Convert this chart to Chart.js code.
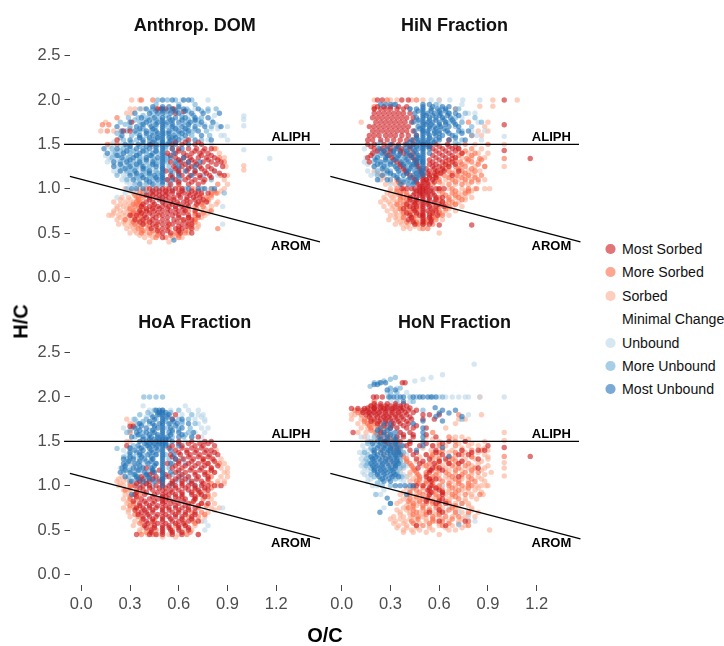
<!DOCTYPE html>
<html>
<head>
<meta charset="utf-8">
<title>Van Krevelen panels</title>
<script src="https://cdn.jsdelivr.net/npm/chart.js@4"></script>
<style>
body { margin: 0; background: #fff; width: 724px; height: 646px; position: relative; overflow: hidden; font-family: "Liberation Sans", sans-serif; }
canvas { position: absolute; }
.axis-title { position: absolute; font-weight: bold; font-size: 20px; color: #000; }
#legend div { position: absolute; left: 622px; font-size: 15.4px; color: #111; line-height: 18px; white-space: nowrap; transform: scaleX(.92); transform-origin: left center; }
#legend i { position: absolute; left: -18px; top: 4px; width: 10.5px; height: 10px; border-radius: 50%; }
</style>
</head>
<body>
<canvas id="dom" width="325" height="297" style="left:0;top:0"></canvas>
<canvas id="hin" width="265" height="297" style="left:325px;top:0"></canvas>
<canvas id="hoa" width="325" height="349" style="left:0;top:297px"></canvas>
<canvas id="hon" width="265" height="349" style="left:325px;top:297px"></canvas>
<div class="axis-title" style="left:0;top:310px;width:42px;text-align:center;transform:rotate(-90deg)">H/C</div>
<div class="axis-title" style="left:300px;top:624px;width:50px;text-align:center">O/C</div>
<div id="legend"></div>
<script>
// axis and legend values
const xTicks = [0, 0.3, 0.6, 0.9, 1.2];
const yTicks = [0, 0.5, 1, 1.5, 2, 2.5];
const classNames = ['Most Sorbed', 'More Sorbed', 'Sorbed', 'Minimal Change', 'Unbound', 'More Unbound', 'Most Unbound'];
const classColors = ['rgba(203,24,29,.6)', 'rgba(251,106,74,.6)', 'rgba(252,174,145,.6)', 'rgba(255,255,255,0)', 'rgba(189,215,231,.6)', 'rgba(107,174,214,.6)', 'rgba(33,113,181,.6)'];
const panelTitles = ['Anthrop. DOM', 'HiN Fraction', 'HoA Fraction', 'HoN Fraction'];

// reference lines, as [O/C, H/C]
const aliphLeft = [[-0.106, 1.5], [1.469, 1.5]];
const aliphRight = [[-0.072, 1.5], [1.46, 1.5]];
const aromLine = [[-0.07, 1.138], [1.469, 0.4]];

// every series below is a list of rows: [H/C, [O/C values read along that row]]
const domSorbed = [
  [2, [.31, .36]], [1.9, [.3, .33, .37]], [1.85, [.28, .31]], [1.75, [.15]], [1.65, [.12, .2, .24]], [1.5, [.18]],
  [1.45, [.83]], [1.4, [.85]], [1.26, [1]], [1.21, [1]], [1.25, [.89]], [1.15, [.9]], [1.05, [.9]],
  [1, [.27, .36, .62, .7, .75, .88]], [.95, [.32, .84]], [.9, [.25, .29, .34, .8]], [.85, [.2, .27, .32, .37, .78, .84]],
  [.8, [.22, .26, .3, .35, .8]], [.75, [.2, .24, .29, .33, .74, .79]], [.7, [.17, .19, .23, .27, .76]],
  [.65, [.22, .27, .31, .7]], [.6, [.23, .27, .31, .35, .72]], [.55, [.28, .32, .37, .66, .71]],
  [.5, [.3, .34, .39, .45, .6, .66]], [.45, [.39, .44, .56, .62]], [.4, [.42, .54]],
  [.975, [.3, .34, .86]], [.875, [.24, .3]], [.825, [.24, .29, .83]], [.775, [.22, .28, .76]], [.725, [.2, .26, .3, .78]], [.675, [.24, .29, .74]],
  [.625, [.26, .3, .68]], [.575, [.3, .34, .72]], [.525, [.33, .37, .66]], [.475, [.36, .42, .58]], [1.1, [.88]], [1.35, [.88]]
];
const domMoreSorbed = [
  [2, [.44, .37]], [1.9, [.46, .5, .56]], [1.8, [.22]], [1.72, [.13, .17]], [1.65, [.16]], [1.5, [.16, .22]],
  [1.45, [.82]], [1.35, [.85]], [1.3, [.88]], [1.15, [.86]], [1.05, [.84]], [1, [.4, .52, .6, .68, .8]],
  [.95, [.36, .4, .8, .83]], [.9, [.35, .38, .77]], [.85, [.34, .36, .74]], [.8, [.33, .38, .44, .7, .75]],
  [.75, [.32, .38, .42, .66, .8]], [.7, [.31, .36, .48, .7]], [.65, [.27, .35, .42, .62, .7]], [.6, [.33, .4, .47, .54, .66]],
  [.55, [.35, .41, .47, .54, .6, .84]], [.5, [.37, .42, .48, .58, .64]], [.45, [.46, .52, .6]],
  [.975, [.38, .82]], [.925, [.33, .37, .74, .8]], [.875, [.35, .78]], [.825, [.32, .35, .74]], [.775, [.3, .36, .71]], [.725, [.32, .35, .7, .75]],
  [.675, [.33, .37, .66, .72]], [.625, [.32, .39, .7]], [.575, [.37, .42, .68]], [.525, [.38, .44, .64]], [.475, [.47, .55, .6]]
];
const domMostSorbed = [
  [1.9, [.47, .49, .52, .57]], [1.85, [.58]], [1.87, [.63]], [1.75, [.31]], [1.65, [.26, .3]], [1.55, [.66, .22]],
  [1.5, [.43, .56, .62, .7, .74]], [1.45, [.56, .6, .66, .71, .76, .8]], [1.4, [.53, .58, .63, .68, .73, .78]],
  [1.35, [.58, .63, .67, .72, .77, .82]], [1.3, [.55, .61, .66, .7, .75, .8, .86]], [1.25, [.57, .62, .68, .73, .78, .87]],
  [1.2, [.52, .6, .65, .7, .76, .82]], [1.15, [.55, .62, .67, .73, .79, .88]], [1.1, [.53, .58, .64, .7, .76]],
  [1.05, [.55, .6, .66, .72]], [1, [.42, .46, .5, .54, .58, .62]], [.95, [.43, .46, .5, .53, .56, .6, .63, .66, .7, .74, .78]],
  [.9, [.42, .46, .5, .54, .57, .61, .65, .69, .73]], [.85, [.4, .44, .5, .55, .59, .63, .67, .72, .77]],
  [.8, [.37, .42, .47, .5, .54, .58, .62, .66]], [.75, [.36, .4, .45, .5, .55, .6, .64, .7]],
  [.7, [.3, .34, .39, .44, .5, .56, .6, .66, .72]], [.65, [.33, .38, .44, .5, .57, .63, .68]],
  [.6, [.38, .44, .5, .56, .62, .68]], [.55, [.43, .5, .58, .62, .68]], [.5, [.5, .55, .61, .68]], [.45, [.5]],
  [1.525, [.58, .64, .72]], [1.425, [.6, .7, .75]], [1.375, [.55, .65, .74, .8]], [1.325, [.6, .68, .78, .84]], [1.275, [.64, .71, .83]],
  [1.225, [.58, .66, .74, .8]], [1.175, [.6, .7, .77, .85]], [1.125, [.56, .66, .73, .8]], [1.075, [.6, .68, .75]],
  [.975, [.44, .48, .52, .56, .62, .68, .72]], [.925, [.4, .44, .48, .52, .6, .67, .71]], [.875, [.42, .48, .52, .57, .65, .7, .75]],
  [.825, [.38, .45, .52, .56, .6, .65, .71]], [.775, [.4, .44, .48, .53, .58, .63]], [.725, [.37, .42, .47, .53, .58, .63]],
  [.675, [.4, .46, .53, .6, .66]], [.625, [.36, .42, .47, .53, .59, .65]], [.575, [.46, .53, .6, .65]], [.525, [.47, .53, .6]]
];
const domUnbound = [
  [2, [.78, .62]], [1.9, [.39, .7]], [1.82, [1]], [1.78, [1]], [1.71, [1]], [1.7, [.9, .85]], [1.6, [.86, .88]], [1.55, [.78, .9]],
  [1.5, [.2, .24, .8]], [1.44, [1]], [1.4, [.18, .2, .26, .3, .34]], [1.35, [.17, .22, .28, .33, .38, .42]], [1.34, [1.16]],
  [1.3, [.16, .24, .3, .35, .42]], [1.25, [.22, .27, .32, .37, .43, .48]], [1.2, [.2, .25, .3, .35, .41, .46, .82]],
  [1.15, [.26, .33, .39, .84]], [1.1, [.25, .29, .35, .42, .46]], [1.05, [.3, .37, .43]], [.95, [.27, .33]],
  [.9, [.22]], [.8, [.87]], [.6, [.87]],
  [1.525, [.2, .3]], [1.475, [.17, .24, .3, .36]], [1.425, [.21, .28, .33, .38]], [1.375, [.15, .2, .26, .31, .36, .42]], [1.325, [.18, .22, .28, .34, .39, .46]],
  [1.275, [.2, .26, .31, .36, .41, .46]], [1.225, [.23, .29, .34, .39, .44]], [1.175, [.22, .28, .33, .38, .43, .48]], [1.125, [.27, .32, .38, .44]],
  [1.075, [.28, .34, .4]], [1.675, [.8, .84]], [1.725, [.76, .83]], [1.775, [.7, .8]], [1.825, [.66, .82]]
];
const domMoreUnbound = [
  [2, [.47, .53, .58, .68]], [1.95, [.46, .6, .7]], [1.9, [.36, .44, .6, .65, .78, .83]], [1.8, [.29, .35, .41, .48, .62, .74]],
  [1.75, [.24, .36, .44, .56, .64, .7]], [1.7, [.3, .38, .46, .53, .59, .66, .8]], [1.65, [.28, .36, .43, .57, .63, .69, .77]],
  [1.6, [.31, .4, .47, .54, .6, .68, .79]], [1.55, [.26, .34, .42, .47, .57, .65, .74]], [1.5, [.3, .38, .48, .55]],
  [1.45, [.19, .26, .3, .38, .46, .52]], [1.4, [.21, .3, .4, .47]], [1.35, [.19, .29, .36, .44, .53]], [1.3, [.24, .32, .4, .47, .53, .62]],
  [1.25, [.25, .34, .42, .54, .66]], [1.2, [.28, .38, .46, .59, .7]], [1.15, [.22, .34, .42, .48, .56, .75]],
  [1.1, [.28, .36, .44, .53, .61, .8]], [1.05, [.33, .4, .47, .54]], [1, [.28, .44, .48, .56, .64, .74, .8]],
  [.95, [.4, .88]], [.9, [.49]], [.85, [.5]],
  [1.875, [.43, .56, .66, .74, .78]], [1.825, [.38, .44, .52, .62, .69]], [1.775, [.33, .39, .46, .55, .66, .72]], [1.725, [.27, .37, .42, .52, .63, .73]],
  [1.675, [.3, .38, .45, .56, .65, .7]], [1.625, [.22, .34, .43, .52, .6, .66]], [1.575, [.24, .36, .47, .56, .62]], [1.525, [.31, .42, .5, .58]],
  [1.475, [.28, .36, .44, .52]], [1.425, [.24, .32, .4, .46]], [1.375, [.23, .34, .42, .52]], [1.325, [.26, .36, .45, .52, .6]], [1.275, [.29, .37, .46, .58]],
  [1.225, [.31, .4, .5, .6]], [1.175, [.3, .4, .47, .56]], [1.125, [.34, .42, .5, .6]]
];
const domMostUnbound = [
  [2, [.5, .56, .63, .66]], [1.9, [.4, .5, .56, .63, .72]], [1.85, [.33, .42, .47, .5, .55, .6, .68, .75, .85]],
  [1.8, [.37, .45, .5, .54, .58, .64, .7, .78]], [1.75, [.3, .4, .47, .5, .53, .6, .67, .74, .81]],
  [1.7, [.22, .34, .43, .5, .56, .62, .7, .76, .86]], [1.65, [.25, .33, .4, .46, .5, .54, .6, .66, .72]],
  [1.6, [.25, .36, .44, .5, .57, .64, .74]], [1.55, [.3, .38, .45, .5, .55, .6, .7, .8]],
  [1.5, [.27, .35, .42, .46, .5, .53, .58, .66]], [1.45, [.14, .22, .34, .42, .5, .56, .62]], [1.4, [.16, .26, .36, .44, .5, .57]],
  [1.35, [.25, .32, .4, .47, .5, .55, .63]], [1.3, [.2, .28, .36, .44, .5, .58, .66, .73]], [1.25, [.2, .3, .38, .46, .5, .6, .7]],
  [1.2, [.24, .33, .42, .5, .55, .64]], [1.15, [.3, .37, .45, .5, .6, .68]], [1.1, [.32, .4, .47, .5, .56]],
  [1.05, [.36, .44, .5]], [1, [.31, .34, .38, .66, .72, .76, .82]], [.42, [.57]],
  [1.925, [.44, .5, .54, .6]], [1.875, [.46, .5, .53, .58, .64]], [1.775, [.42, .5, .56, .62, .7]], [1.725, [.38, .46, .5, .56, .66]], [1.675, [.36, .44, .5, .58, .64]],
  [1.625, [.4, .47, .5, .54, .62]], [1.575, [.36, .42, .47, .5, .54, .58]], [1.525, [.38, .44, .5, .54]], [1.475, [.3, .4, .46, .5]], [1.425, [.28, .38, .46, .5]],
  [1.375, [.22, .34, .43, .5]], [1.325, [.3, .4, .5]], [1.275, [.24, .34, .44, .5]], [1.225, [.27, .38, .5]], [1.175, [.34, .42, .5]], [1.125, [.38, .46, .5]], [1.075, [.42, .5]]
];

const hinSorbed = [
  [2, [.2, .3, .34, .43, .5, .6, .93]], [2, [1.08]], [1.93, [.85, .93]], [1.75, [.12, .9]], [1.7, [.88]], [1.65, [.84, .9]], [1.6, [.86]],
  [1.5, [1, .82]], [1.45, [.86]], [1.4, [.78, .84, .9]], [1.35, [.74, .8, .88]], [1.3, [.69, .77, .84]], [1.25, [1, .66, .73, .82, .88]],
  [1.2, [.2, .26, .62, .7, .78, .85]], [1.15, [.24, .6, .66, .75, .82]], [1.1, [.24, .3, .56, .64, .72, .8, .88]],
  [1.05, [.27, .33, .62, .7, .78]], [1, [.3, .66, .74, .82, .88, .91]], [.95, [.28, .33, .72, .78]], [.9, [.26, .31, .36, .7, .76, .8]],
  [.85, [.24, .29, .34, .38, .66, .72]], [.8, [.26, .32, .36, .68, .74]], [.75, [.28, .33, .37, .41, .64, .7]],
  [.7, [.3, .34, .39, .43, .6, .66]], [.65, [.29, .34, .38, .43, .47, .55, .62]], [.6, [.33, .37, .41, .46, .52]], [.55, [.38, .42, .48]], [.5, [.6]],
  [1.175, [.22, .26, .72, .8]], [1.125, [.26, .7, .78]], [1.075, [.3, .76, .84]], [.975, [.3, .76, .8]], [.925, [.3, .33, .74]], [.875, [.27, .32, .76]],
  [.825, [.3, .35, .7]], [.775, [.31, .35, .66]], [.725, [.33, .37, .62]], [.675, [.33, .37, .58]], [.625, [.36, .42, .5]], [.575, [.4, .45]]
];
const hinMoreSorbed = [
  [2, [.28, .46]], [1.9, [.2, .7]], [1.75, [.78]], [1.6, [.8]], [1.5, [.9, .76]], [1.45, [.8, .72]], [1.4, [.74, .82]], [1.34, [1, .68, .77, .85]],
  [1.3, [.64, .73, .8]], [1.25, [.62, .7, .76, .88]], [1.2, [.58, .66, .74, .82]], [1.15, [.56, .63, .71, .78, .86]],
  [1.1, [.34, .52, .6, .68, .76, .84]], [1.05, [.37, .56, .66, .74]], [1, [.34, .38, .6, .68, .78, .83]], [.95, [.36, .4, .62, .68, .76]],
  [.9, [.38, .42, .6, .66, .72]], [.85, [.41, .45, .62, .68]], [.8, [.4, .44, .48, .6, .66]], [.75, [.43, .47, .56, .6]],
  [.7, [.46, .5, .56, .62]], [.65, [.44, .52, .58]], [.6, [.47, .5, .56]], [.55, [.5, .53]],
  [1.925, [.2]], [1.425, [.76]], [1.375, [.72, .8]], [1.325, [.7, .78, .86]], [1.275, [.66, .74, .84]], [1.225, [.64, .72, .8]], [1.175, [.6, .68, .76]],
  [1.125, [.58, .66, .74, .82]], [1.075, [.35, .6, .7, .8]], [.975, [.34, .38, .6, .7, .78]], [.925, [.36, .4, .64, .7]], [.875, [.36, .4, .6, .66, .74]],
  [.825, [.34, .38, .56, .64, .7]], [.775, [.36, .4, .46, .58, .64]], [.725, [.38, .42, .54, .6]], [.675, [.38, .44, .56]], [.625, [.4, .46, .52]]
];
const hinMostSorbed = [
  [2, [.22, .25, .37, .41]], [2, [1]], [1.9, [.2, .24, .27, .3, .34, .38]], [1.85, [.2, .23, .26, .29, .32, .35, .38, .42]],
  [1.8, [.19, .22, .25, .28, .31, .34, .37, .4, .44]], [1.75, [.21, .24, .27, .3, .33, .36, .39, .43]],
  [1.72, [1]], [1.7, [.17, .2, .23, .26, .29, .32, .35, .38, .41]], [1.65, [.19, .22, .25, .28, .31, .34, .37, .4, .44]],
  [1.6, [.17, .2, .23, .27, .3, .33, .37, .41, .46]], [1.55, [.16, .19, .24, .28, .32, .36, .4, .44, .66]], [1.5, [.16, .2, .26, .31, .35, .39, .44, .5, .58, .65]],
  [1.45, [.2, .25, .3, .37, .42, .56, .62, .68, .72]], [1.43, [1]], [1.4, [.19, .27, .38, .44, .6, .66, .74]], [1.35, [.16, .31, .44, .58, .64, .7]],
  [1.34, [1.16]], [1.3, [.17, .34, .46, .56, .62, .68]], [1.25, [.36, .47, .56, .6, .66]], [1.2, [.39, .49, .54, .59, .63, .72]],
  [1.15, [.42, .5, .54, .58, .68]], [1.1, [.45, .5, .52, .56]], [1.05, [.47, .5, .53]], [1, [.37, .4, .43, .45, .48, .5, .52, .55, .58, .6, .63]],
  [.95, [.45, .48, .5, .53, .56]], [.9, [.42, .46, .5, .54, .58, .62]], [.85, [.44, .47, .5, .53, .57, .62]], [.8, [.42, .46, .5, .54, .58, .63]],
  [.75, [.45, .5, .53, .58]], [.7, [.42, .48, .5, .54, .59]], [.65, [.41, .5, .55]], [.6, [.5, .45, .54]], [.59, [.6, .8]],
  [1.925, [.22, .26, .3, .35, .4]], [1.475, [.18, .28, .34, .42, .54, .6, .66, .7]], [1.425, [.22, .3, .36, .58, .64, .7]], [1.375, [.18, .29, .42, .56, .62, .68]],
  [1.325, [.32, .45, .54, .6, .66]], [1.275, [.36, .46, .54, .58, .64, .7]], [1.225, [.38, .48, .52, .57, .62]], [1.175, [.4, .49, .53, .57, .61]], [1.125, [.44, .5, .54, .58]],
  [1.075, [.46, .5, .53, .57]], [1.025, [.48, .5, .53]], [.975, [.46, .48, .5, .52, .55]], [.925, [.44, .48, .5, .53, .57]], [.875, [.42, .46, .5, .54, .58]],
  [.825, [.4, .45, .5, .53, .6]], [.775, [.38, .44, .5, .55]], [.725, [.4, .46, .5, .56]], [.675, [.43, .5, .54]], [.625, [.44, .5, .55]]
];
const hinUnbound = [
  [2, [.55, .6, .665, .745, .85]], [1.95, [.6, .74]], [1.85, [.78, .82]], [1.75, [.74, .84]], [1.65, [.8, .88]], [1.59, [1]], [1.55, [.86]],
  [1.45, [.14]], [1.4, [.2]], [1.3, [.14]], [1.25, [.2, .23]], [1.2, [.16, .25]], [1.15, [.18, .3]], [1.1, [.23]], [1.05, [.3]],
  [1.35, [.15]], [1.275, [.16, .26]], [1.175, [.2, .27]], [1.6, [.83]], [1.8, [.74]]
];
const hinMoreUnbound = [
  [1.95, [.32, .58]], [1.9, [.42, .62, .7, .72]], [1.85, [.6, .66, .76]], [1.8, [.62, .7, .82]], [1.75, [.47, .66, .74, .86]], [1.7, [.6, .7, .8]],
  [1.65, [.5, .64, .74]], [1.6, [.7, .8]], [1.55, [.58, .74]], [1.5, [.22, .54, .72]], [1.45, [.24, .34, .5]], [1.4, [.22, .3, .4]],
  [1.35, [.2, .28, .36, .48]], [1.3, [.2, .27, .36, .5]], [1.25, [.28, .38]], [1.2, [.22, .3, .4]], [1.15, [.22, .34]], [1.1, [.3, .38]],
  [1.525, [.24, .7]], [1.425, [.26, .36]], [1.375, [.24, .32, .4]], [1.275, [.24, .32, .42]], [1.175, [.28, .36]]
];
const hinMostUnbound = [
  [1.95, [.24, .27, .3, .33, .5, .54]], [1.9, [.42, .46, .5, .55, .59, .64]], [1.85, [.45, .5, .53, .57, .61, .66, .7]], [1.8, [.46, .5, .54, .58, .62, .67]],
  [1.75, [.44, .5, .53, .56, .6, .64, .69]], [1.7, [.47, .5, .54, .57, .61, .66, .72]], [1.65, [.45, .5, .53, .57, .6, .65, .72, .78]],
  [1.6, [.46, .5, .54, .58, .62, .68]], [1.55, [.43, .47, .5, .53, .56, .6, .66, .76]], [1.5, [.3, .4, .45, .48, .5, .52, .55]],
  [1.45, [.23, .28, .33, .39, .44, .47, .5, .54]], [1.4, [.25, .32, .36, .41, .46, .5, .54]], [1.35, [.22, .27, .34, .39, .43, .47, .5]],
  [1.3, [.24, .3, .37, .41, .45, .48, .5]], [1.25, [.2, .26, .33, .39, .43, .46, .5]], [1.2, [.28, .35, .41, .45, .48, .5]],
  [1.15, [.25, .32, .38, .44, .47, .5]], [1.1, [.22, .28, .35, .41, .46]], [1.05, [.36, .41, .44]],
  [1.925, [.5, .56, .62, .66]], [1.875, [.47, .5, .55, .6, .64]], [1.825, [.5, .52, .56, .6, .65, .72]], [1.775, [.47, .5, .54, .58, .63, .68]],
  [1.725, [.5, .52, .55, .6, .64, .7]], [1.675, [.48, .5, .54, .58, .63]], [1.625, [.5, .53, .57, .6, .66, .74]], [1.575, [.46, .5, .54, .6, .7]],
  [1.525, [.42, .47, .5, .53, .57]], [1.475, [.35, .42, .46, .5, .53]], [1.425, [.26, .32, .4, .45, .5]], [1.375, [.28, .35, .43, .47, .5]],
  [1.325, [.21, .27, .33, .4, .46, .5]], [1.275, [.22, .3, .38, .44, .5]], [1.225, [.25, .34, .42, .5]], [1.175, [.3, .4, .46, .5]], [1.125, [.34, .42, .47]], [1.075, [.38, .44]]
];

const hoaSorbed = [
  [1.75, [.28]], [1.7, [.3, .32]], [1.65, [.31]], [1.5, [.28, .3]], [1.4, [.83]], [1.3, [.8, .86]], [1.25, [.3, .83, .88]], [1.2, [.34, .86, .9]],
  [1.15, [.82, .88]], [1.1, [.25, .86, .9]], [1.05, [.22, .26, .3, .84, .88]], [1, [.23, .26, .84]], [.95, [.26, .3]], [.9, [.27, .32, .82]],
  [.85, [.26, .8]], [.8, [.28, .33, .82]], [.75, [.26, .3, .36, .8, .85]], [.7, [.29, .78]], [.65, [.3, .76]], [.6, [.33, .74]],
  [.55, [.32, .38, .7]], [.5, [.36, .42, .63, .68]], [.45, [.41, .47, .54, .6, .72]], [.42, [.5, .58]],
  [1.15, [.9]], [1.075, [.23, .28]], [1.025, [.24, .84, .88]], [.925, [.29]], [.825, [.29]], [.725, [.29, .82]], [.525, [.38]], [.475, [.36]]
];
const hoaMoreSorbed = [
  [1.6, [.3]], [1.3, [.75]], [1.25, [.78, .85]], [1.2, [.8]], [1.15, [.78]], [1.1, [.8]], [1.05, [.36, .78]], [1, [.3]],
  [.95, [.27, .34, .7, .76]], [.9, [.36, .72, .78]], [.85, [.3, .34, .7, .75]], [.8, [.32, .68, .74]], [.75, [.33, .72]], [.7, [.35, .68, .74]],
  [.65, [.35, .66, .72]], [.6, [.37, .45, .63, .69]], [.55, [.43, .58, .64]], [.5, [.46, .56]], [.45, [.37, .44, .65]],
  [1.025, [.3, .8]], [.975, [.3, .8]], [.875, [.3, .78]], [.775, [.3, .77]], [.675, [.33, .76]], [.575, [.36, .7]], [.475, [.4, .67]]
];
const hoaMostSorbed = [
  [1.8, [.58]], [1.75, [.56]], [1.67, [.3, .32]], [1.55, [.72]], [1.5, [.6, .68, .76, .8]], [1.45, [.28, .56, .62, .7, .75, .82]],
  [1.4, [.58, .65, .71, .77, .8]], [1.35, [.55, .61, .67, .73, .79, .84]], [1.3, [.58, .63, .69, .75, .81]], [1.25, [.53, .6, .66, .72, .78]],
  [1.2, [.4, .56, .62, .68, .74, .8]], [1.15, [.44, .58, .64, .7, .76, .82]], [1.1, [.37, .46, .54, .6, .66, .72, .78]],
  [1.05, [.36, .42, .48, .56, .62, .68, .74]], [1, [.33, .38, .42, .46, .5, .54, .58, .62, .66, .7, .74, .78, .82, .86]],
  [.95, [.38, .44, .5, .55, .6, .66, .72, .78]], [.9, [.33, .39, .45, .5, .54, .58, .62, .68, .74]], [.85, [.37, .42, .47, .5, .54, .6, .64, .7]],
  [.8, [.36, .4, .44, .5, .55, .6, .66, .74, .78]], [.75, [.34, .38, .42, .46, .5, .54, .58, .62, .66, .7]], [.7, [.37, .4, .44, .5, .56, .6, .64, .7]],
  [.65, [.38, .42, .46, .5, .54, .58, .62, .68]], [.6, [.4, .44, .5, .56, .6, .66, .72]], [.55, [.39, .45, .5, .54, .6, .64]],
  [.5, [.43, .5, .55, .6, .66]], [.45, [.34, .42, .46, .5, .56, .62, .72]],
  [1.475, [.6, .66, .73, .78]], [1.425, [.54, .62, .68, .74]], [1.375, [.6, .65, .7, .76, .82]], [1.325, [.56, .66, .72, .78]], [1.275, [.6, .68, .75, .82]],
  [1.225, [.58, .64, .7, .76, .84]], [1.175, [.48, .6, .67, .73, .8]], [1.125, [.42, .52, .62, .7, .76]], [1.075, [.38, .44, .5, .58, .64, .71, .78]],
  [1.025, [.34, .4, .5, .56, .62, .68, .75]], [.975, [.36, .42, .48, .52, .58, .64, .7, .76]], [.925, [.34, .4, .47, .52, .56, .62, .68, .73]],
  [.875, [.34, .44, .5, .52, .58, .62, .7, .76]], [.825, [.32, .39, .45, .5, .52, .57, .63, .69]], [.775, [.36, .42, .47, .52, .58, .64, .72]],
  [.725, [.33, .39, .44, .5, .54, .6, .66]], [.675, [.35, .41, .47, .52, .58, .64, .7]], [.625, [.38, .44, .5, .55, .62, .68]], [.575, [.41, .47, .52, .58, .63]],
  [.525, [.4, .45, .5, .54, .6, .66]], [.475, [.43, .5, .56, .62]]
];
const hoaUnbound = [
  [1.9, [.38, .64]], [1.85, [.42, .55, .66, .72]], [1.8, [.62, .72, .75]], [1.75, [.32, .7, .76]], [1.7, [.38, .72]], [1.65, [.26, .74, .78]],
  [1.6, [.7, .76]], [1.55, [.68, .74]], [1.5, [.36, .64]], [1.4, [.26, .3]], [1.35, [.28, .34]], [1.25, [.3, .38, .42]], [1.2, [.24, .3, .36]],
  [1.15, [.36, .45]], [1.1, [.32, .42, .66]], [1.05, [.34, .46, .7]], [.95, [.72]], [.9, [.76]], [.75, [.87]], [.6, [.76]], [.55, [.78]], [.5, [.76]],
  [1.375, [.3]], [1.3, [.3, .34]], [1.225, [.27, .33]], [1.175, [.3, .38]], [1.125, [.4]], [1.775, [.4, .74]], [1.725, [.34, .76]]
];
const hoaMoreUnbound = [
  [2, [.385, .42, .46, .5]], [1.85, [.45, .6, .5]], [1.8, [.36, .43, .48, .53, .68]], [1.75, [.33, .4, .46, .52, .6, .66]], [1.7, [.35, .42, .55, .62, .7]],
  [1.65, [.35, .45, .53, .6, .67]], [1.6, [.28, .38, .44, .56, .66]], [1.55, [.33, .41, .56, .63]], [1.45, [.32, .4, .54]],
  [1.42, [.22]], [1.35, [.3, .38, .46, .52]], [1.3, [.28, .36, .44, .54, .62]], [1.25, [.28, .35, .46, .56, .64]], [1.2, [.27, .34, .44, .54]],
  [1.15, [.26, .33, .41, .5, .6]], [1.1, [.29, .35, .44, .52, .62]], [1.05, [.3, .4, .5, .58, .66]], [1, [.36, .44, .56, .7]],
  [1.825, [.41, .47, .55]], [1.725, [.38, .52, .62]], [1.625, [.3, .42, .6]], [1.575, [.36, .64]], [1.425, [.3, .36]], [1.375, [.34, .42]], [1.325, [.26, .32]],
  [1.275, [.3, .4]], [1.175, [.3, .36, .44]], [1.125, [.32, .4, .56]], [1.075, [.34, .48, .6]], [1.025, [.4, .55]]
];
const hoaMostUnbound = [
  [1.85, [.46, .48, .5]], [1.8, [.47, .5, .54]], [1.75, [.45, .5, .56, .62]], [1.7, [.36, .44, .48, .5, .54, .59, .66]],
  [1.65, [.33, .4, .47, .5, .55, .62]], [1.6, [.34, .4, .45, .5, .54, .6, .69]], [1.55, [.31, .38, .43, .47, .5, .53, .6, .68]],
  [1.5, [.36, .4, .43, .46, .48, .5, .52, .56]], [1.45, [.35, .41, .44, .47, .5, .52, .6]], [1.4, [.33, .38, .43, .47, .5, .55]],
  [1.35, [.36, .41, .46, .5, .57]], [1.3, [.26, .32, .39, .44, .5, .58]], [1.25, [.26, .33, .41, .46, .5, .55]], [1.2, [.25, .32, .38, .43, .5]],
  [1.15, [.24, .3, .39, .45, .5, .55]], [1.1, [.27, .34, .41, .5]], [1.05, [.31, .38, .45, .5]], [1, [.5]], [.9, [.31]],
  [1.825, [.48, .5, .52]], [1.775, [.44, .5, .53]], [1.725, [.42, .5, .57]], [1.675, [.37, .45, .5, .58]], [1.625, [.36, .44, .5, .56]], [1.575, [.35, .42, .47, .5, .55, .62]],
  [1.525, [.38, .42, .45, .48, .5, .52, .54]], [1.475, [.39, .42, .45, .48, .5, .52]], [1.425, [.3, .37, .42, .46, .5]], [1.375, [.3, .36, .44, .5]], [1.325, [.3, .37, .43, .5]],
  [1.275, [.29, .36, .43, .5]], [1.225, [.27, .36, .45, .5]], [1.175, [.27, .35, .44, .5]], [1.125, [.33, .4, .5]], [1.075, [.35, .42, .5]]
];

const honSorbed = [
  [2, [.85]], [1.8, [.06, .08, .86]], [1.75, [.06, .12, .16, .72, .76]], [1.7, [.1, .14, .18, .7]], [1.65, [.12, .16, .2, .64]], [1.6, [.1, .15, .2, .24, 1]], [1.55, [.14, .22, .52, .7, .74]],
  [1.51, [1]], [1.5, [.16, .2, .26, .6, .76, .88]], [1.45, [.26, .56, .64, .78, .84]], [1.4, [.24, .3, .55, .68, .74, .9]], [1.35, [.26, .32, .52, .6, .7, .8, .88]],
  [1.3, [.28, .34, .56, .66, .76, .82, .9]], [1.26, [1]], [1.25, [.3, .36, .5, .6, .72, .84]], [1.2, [.33, .38, .53, .64, .78, .88, 1]], [1.15, [.36, .42, .58, .7, .8, .92]],
  [1.11, [1]], [1.1, [.4, .46, .53, .64, .74, .84]], [1.05, [.42, .48, .56, .68, .78, .88]], [1, [.5, .62, .7, .78, .83, .86, .89, .9]], [.95, [.42, .58, .66, .74, .82]],
  [.9, [.36, .46, .54, .64, .72, .8, .87]], [.85, [.38, .44, .56, .66, .76, .83]], [.8, [.34, .42, .48, .6, .7, .78]], [.75, [.38, .44, .54, .62, .72, .8]],
  [.7, [.36, .42, .48, .56, .64, .74, .84]], [.65, [.32, .38, .44, .5, .6, .68, .76, .82]], [.6, [.33, .39, .46, .52, .58, .66, .72]],
  [.55, [.35, .4, .46, .54, .6, .68, .76]], [.5, [.38, .43, .48, .56, .66, .7, .91]], [.45, [.6]],
  [1.525, [.56, .68, .78]], [1.475, [.6, .72, .8]], [1.425, [.5, .62, .74, .88]], [1.375, [.56, .66, .76, .84]], [1.325, [.48, .58, .7, .8, .9]], [1.275, [.46, .56, .64, .74, .86]],
  [1.225, [.5, .62, .7, .8, .9]], [1.175, [.44, .54, .66, .74, .86]], [1.125, [.42, .6, .7, .8, .88]], [1.075, [.44, .56, .66, .74, .86]], [.975, [.4, .6, .7, .76, .84]],
  [.925, [.38, .52, .66, .78, .86]], [.875, [.4, .48, .58, .68, .8]], [.825, [.36, .46, .54, .66, .76]], [.775, [.4, .46, .58, .68, .78]], [.725, [.34, .4, .5, .6, .7, .8]],
  [.675, [.36, .42, .5, .58, .7, .78]], [.625, [.3, .36, .42, .52, .62, .74]], [.575, [.32, .38, .48, .6, .72]], [.525, [.34, .4, .46, .54, .64, .74]], [.475, [.38, .44, .52]]
];
const honMoreSorbed = [
  [1.95, [.2]], [1.9, [.18]], [1.85, [.08, .1]], [1.8, [.12, .72]], [1.75, [.14, .18]], [1.7, [.16, .2, .24]], [1.65, [.18, .23, .27]], [1.6, [.21, .26, .56]], [1.55, [.24, .29, .66]],
  [1.5, [.27, .32, .7]], [1.45, [.3, .35, .6, .7]], [1.4, [.34, .62, .8, .86]], [1.35, [.37, .56, .74]], [1.33, [1]], [1.3, [.4, .6, .68]], [1.25, [.42, .54, .66, .78]],
  [1.2, [.44, .58, .72, .82]], [1.15, [.46, .52, .64, .76, .84]], [1.1, [.48, .56, .68, .78]], [1.05, [.46, .52, .62, .72, .82]], [1, [.44, .56, .6, .66, .74, .8]],
  [.95, [.46, .54, .62, .72]], [.9, [.42, .5, .58, .68, .76, .85]], [.85, [.42, .5, .6, .72]], [.8, [.44, .52, .56, .66, .74]], [.75, [.41, .5, .58, .68]],
  [.7, [.46, .52, .6, .7, .78]], [.65, [.47, .56, .64, .72]], [.6, [.43, .56, .62, .78]], [.55, [.5, .62, .78]],
  [1.825, [.1, .16]], [1.725, [.14, .2]], [1.675, [.17, .22]], [1.625, [.18, .24]], [1.575, [.22, .28]], [1.525, [.25, .3]], [1.475, [.28, .33]], [1.425, [.32, .36]], [1.375, [.35, .6, .7]],
  [1.325, [.38, .55, .66, .8]], [1.275, [.4, .6, .7]], [1.225, [.43, .52, .58, .68, .76]], [1.175, [.45, .54, .6, .7, .8]], [1.125, [.47, .52, .58, .66, .74]], [1.075, [.48, .54, .6, .7, .8]],
  [1.025, [.47, .52, .56, .66, .72, .78]], [.975, [.44, .5, .58, .68, .78]], [.925, [.42, .48, .56, .62, .7]], [.875, [.46, .53, .6, .7]], [.825, [.41, .48, .56, .64]],
  [.775, [.44, .5, .6, .7]], [.725, [.44, .54, .66]], [.675, [.44, .52, .6]], [.625, [.47, .56, .68]], [.575, [.44, .54, .66]]
];
const honMostSorbed = [
  [2.16, [.373, .39]], [2, [.195, .215, .25]], [1.9, [.18, .21, .24, .27, .3, .33, .36, .4]], [1.87, [.06, .1, .14, .2, .26, .31, .38]],
  [1.85, [.13, .16, .19, .22, .25, .28, .31, .34, .37, .41, .46]], [1.8, [.15, .18, .21, .24, .27, .3, .33, .36, .4, .5, .6, .54]],
  [1.75, [.2, .24, .27, .3, .34, .38, .43, .5, .57]], [1.7, [.22, .28, .32, .36, .41]], [1.65, [.3, .34, .4, .44, .52]], [1.6, [.07, .24, .36, .42]],
  [1.55, [.34, .38, .44, .58]], [1.5, [.27, .36, .42, .66, .76]], [1.45, [.4, .48, .56, .9]], [1.43, [1]], [1.4, [.42, .58, .74, .84, .88]],
  [1.35, [.44, .52, .62, .72, .78]], [1.33, [1.16]], [1.3, [.46, .54, .64, .84]], [1.25, [.48, .57, .66, .72]], [1.2, [.47, .56, .6, .84]],
  [1.15, [.54]], [1.1, [.52, .72]], [1.05, [.55]], [1, [.46, .5, .55]], [.95, [.53, .6]],
  [.9, [.54, .62]], [.85, [.53, .62]], [.8, [.58, .64]], [.7, [.54, .62]], [.6, [.6, .76]], [.55, [.46, .64]],
  [1.925, [.2, .24, .28, .33, .38]], [1.875, [.16, .2, .24, .28, .33, .36, .42]], [1.825, [.13, .17, .2, .23, .27, .31, .35, .39, .44]], [1.775, [.17, .22, .26, .29, .33, .37, .42]],
  [1.725, [.18, .23, .27, .31, .35, .4]], [1.675, [.26, .31, .38, .46]], [1.575, [.38, .44, .52]], [1.475, [.42, .52, .62]], [1.375, [.46, .58, .8]], [1.275, [.5, .6, .74]],
  [1.175, [.55, .62]], [1.075, [.54, .58]], [.975, [.54, .58]], [.925, [.55, .62]], [.825, [.52, .6]], [.725, [.6]]
];
const honUnbound = [
  [2.37, [.815]], [2.25, [.62]], [2.22, [.55]], [2.2, [.5]], [2.18, [.45]], [2.1, [.3, .34]], [2.05, [.28, .4]], [2, [.6, .64, .68, .72, .76, .78, .85, 1]],
  [1.95, [.3, .42]], [1.9, [.36]], [1.8, [.78]], [1.7, [.44]], [1.5, [.16]], [1.4, [.17, .14]], [1.35, [.13, .4]], [1.3, [.12, .36]], [1.25, [.13, .4]],
  [1.2, [.14, .38]], [1.15, [.13, .18, .36]], [1.1, [.16, .36, .4]], [1.05, [.16, .24, .38]], [1, [.19, .22, .62]], [.95, [.26, .42]], [.9, [.24]],
  [.8, [.74]], [.75, [.26, .66]], [.7, [.6, .72]], [.65, [.78]], [.6, [.78, .82]],
  [1.55, [.16, .12]], [1.45, [.13]], [1.375, [.11, .38]], [1.275, [.14, .38]], [1.225, [.12, .36, .4]], [1.175, [.16, .34]], [1.125, [.14, .38]], [1.075, [.18, .36]], [1.6, [.3, .36]], [1.65, [.34]]
];
const honMoreUnbound = [
  [2.12, [.175]], [2.16, [.2, .23]], [2.18, [.26]], [2.2, [.3]], [2.22, [.33]], [2.1, [.3, .36]], [2.05, [.3, .34]], [2, [.3, .34, .42, .46, .56, .62]],
  [1.95, [.34, .44]], [1.85, [.5]], [1.75, [.74]], [1.6, [.22, .3]], [1.5, [.18, .24, .34]], [1.45, [.2, .26, .38]], [1.4, [.19, .28, .36]], [1.35, [.16, .2, .34]],
  [1.3, [.15, .2, .32]], [1.25, [.16, .34]], [1.2, [.18, .36]], [1.15, [.2, .34]], [1.1, [.2, .32, .37]], [1, [.25, .3]], [.9, [.21]], [.8, [.3]], [.56, [.72]],
  [1.65, [.28]], [1.55, [.2, .34]], [1.475, [.16, .34]], [1.425, [.18, .3]], [1.375, [.14, .3, .38]], [1.325, [.18, .36]], [1.275, [.17, .36]], [1.225, [.15, .33, .38]],
  [1.175, [.2, .3]], [1.125, [.18, .34]], [1.075, [.24, .33]], [1.03, [.22]]
];
const honMostUnbound = [
  [2.14, [.2, .22]], [2.16, [.24, .27]], [2.08, [.28, .33]], [2, [.29, .32, .36, .38, .44, .48, .5, .53, .55, .58]], [1.95, [.38]], [1.88, [.575]], [1.85, [.62, .7]],
  [1.82, [.6, .66]], [1.78, [.74, .58]], [1.73, [.62, .5]], [1.7, [.26, .3, .44]], [1.65, [.24, .3, .5]], [1.6, [.26, .33, .5]], [1.55, [.23, .28, .32, .5]],
  [1.5, [.22, .26, .3, .33, .5]], [1.45, [.23, .27, .31, .34, .37, .5]], [1.43, [.62]], [1.4, [.2, .25, .29, .32, .35, .46]], [1.35, [.22, .26, .3, .33, .36]],
  [1.33, [.66]], [1.3, [.19, .23, .27, .3, .34]], [1.25, [.18, .21, .25, .28, .32, .35]], [1.2, [.2, .23, .26, .3, .33]], [1.15, [.22, .25, .28, .32]],
  [1.1, [.23, .27, .31, .35]], [1.05, [.26, .3]], [1, [.33, .36, .39, .42, .44]], [.9, [.4]], [.86, [.28]], [.8, [.3]], [.7, [.235]],
  [1.625, [.22, .28]], [1.575, [.26, .3]], [1.525, [.24, .28, .33]], [1.475, [.19, .24, .29, .33]], [1.425, [.22, .26, .3, .34]], [1.375, [.2, .24, .28, .32, .35]],
  [1.325, [.18, .21, .25, .29, .33]], [1.275, [.2, .24, .27, .31, .34]], [1.225, [.19, .22, .25, .29, .33]], [1.175, [.2, .24, .27, .31]], [1.125, [.22, .26, .3, .33]], [1.075, [.25, .29]]
];

function rowsToPoints(rows) {
    return rows.flatMap(row => row[1].map(x => ({ x: x, y: row[0] })));
}

function lineDataset(points) {
    return {
        data: points.map(p => ({ x: p[0], y: p[1] })),
        showLine: true,
        pointRadius: 0,
        borderColor: '#000',
        borderWidth: 1.2,
        clip: false
    };
}

// ALIPH / AROM tags, placed through the scales
const regionTags = [['ALIPH', 1.29, 1.58], ['AROM', 1.29, 0.35]];
const regionTagPlugin = {
    id: 'regionTags',
    afterDatasetsDraw(chart) {
        const ctx = chart.ctx;
        ctx.save();
        ctx.font = 'bold 13px "Liberation Sans"';
        ctx.fillStyle = '#000';
        ctx.textAlign = 'center';
        ctx.textBaseline = 'middle';
        regionTags.forEach(t => {
            ctx.fillText(t[0], chart.scales.x.getPixelForValue(t[1]), chart.scales.y.getPixelForValue(t[2]));
        });
        ctx.restore();
    }
};

function createPanel(canvasId, titleText, series, aliph, xMin, xMax, opts) {
    // Chart.js paints the first dataset last, so the darkest classes go first
    const order = [5, 0, 4, 1, 3, 2];
    const colors = [classColors[0], classColors[1], classColors[2], classColors[4], classColors[5], classColors[6]];
    const pointSets = order.map(i => ({
        data: rowsToPoints(series[i]),
        backgroundColor: colors[i],
        borderWidth: 0,
        pointRadius: 2.7
    }));
    return new Chart(document.getElementById(canvasId), {
        type: 'scatter',
        data: { datasets: [lineDataset(aliph), lineDataset(aromLine)].concat(pointSets) },
        plugins: [regionTagPlugin],
        options: {
            responsive: false,
            animation: false,
            events: [],
            layout: { padding: { left: opts.showY ? 0 : 5, right: opts.right, bottom: opts.showX ? 0 : 9 } },
            plugins: {
                legend: { display: false },
                tooltip: { enabled: false },
                title: {
                    display: true,
                    fullSize: false,
                    text: titleText,
                    color: '#111',
                    font: { family: 'Liberation Sans', size: 18, weight: 'bold' },
                    padding: { top: 15, bottom: 8.4 }
                }
            },
            scales: {
                x: {
                    type: 'linear',
                    display: opts.showX,
                    min: xMin,
                    max: xMax,
                    afterBuildTicks: s => { s.ticks = xTicks.map(v => ({ value: v })); },
                    afterFit: s => { s.height = opts.showX ? 61 : 0; s.paddingLeft = 0; s.paddingRight = 0; },
                    border: { display: false },
                    grid: { drawOnChartArea: false, tickLength: 6, tickColor: '#444' },
                    ticks: {
                        padding: 4,
                        maxRotation: 0,
                        color: '#4d4d4d',
                        font: { family: 'Liberation Sans', size: 16.5 },
                        callback: v => v.toFixed(1)
                    }
                },
                y: {
                    type: 'linear',
                    display: opts.showY,
                    min: -0.12,
                    max: 2.62,
                    afterBuildTicks: s => { s.ticks = yTicks.map(v => ({ value: v })); },
                    afterFit: s => { s.width = opts.showY ? 69.5 : 0; s.paddingTop = 0; s.paddingBottom = 0; },
                    border: { display: false },
                    grid: { drawOnChartArea: false, tickLength: 5, tickColor: '#444' },
                    ticks: {
                        padding: 4,
                        color: '#4d4d4d',
                        font: { family: 'Liberation Sans', size: 16.5 },
                        callback: v => v.toFixed(1)
                    }
                }
            }
        }
    });
}

createPanel('dom', panelTitles[0], [domMostSorbed, domMoreSorbed, domSorbed, domUnbound, domMoreUnbound, domMostUnbound], aliphLeft, -0.0726, 1.469, { showX: false, showY: true, right: 5 });
createPanel('hin', panelTitles[1], [hinMostSorbed, hinMoreSorbed, hinSorbed, hinUnbound, hinMoreUnbound, hinMostUnbound], aliphRight, -0.072, 1.46, { showX: false, showY: false, right: 11 });
createPanel('hoa', panelTitles[2], [hoaMostSorbed, hoaMoreSorbed, hoaSorbed, hoaUnbound, hoaMoreUnbound, hoaMostUnbound], aliphLeft, -0.0726, 1.469, { showX: true, showY: true, right: 5 });
createPanel('hon', panelTitles[3], [honMostSorbed, honMoreSorbed, honSorbed, honUnbound, honMoreUnbound, honMostUnbound], aliphRight, -0.072, 1.46, { showX: true, showY: false, right: 11 });

// legend
const legendBox = document.getElementById('legend');
classNames.forEach((name, i) => {
    const row = document.createElement('div');
    row.style.top = (240 + i * 23.4) + 'px';
    row.innerHTML = '<i style="background:' + classColors[i] + '"></i>' + name;
    legendBox.appendChild(row);
});
</script>
</body>
</html>
